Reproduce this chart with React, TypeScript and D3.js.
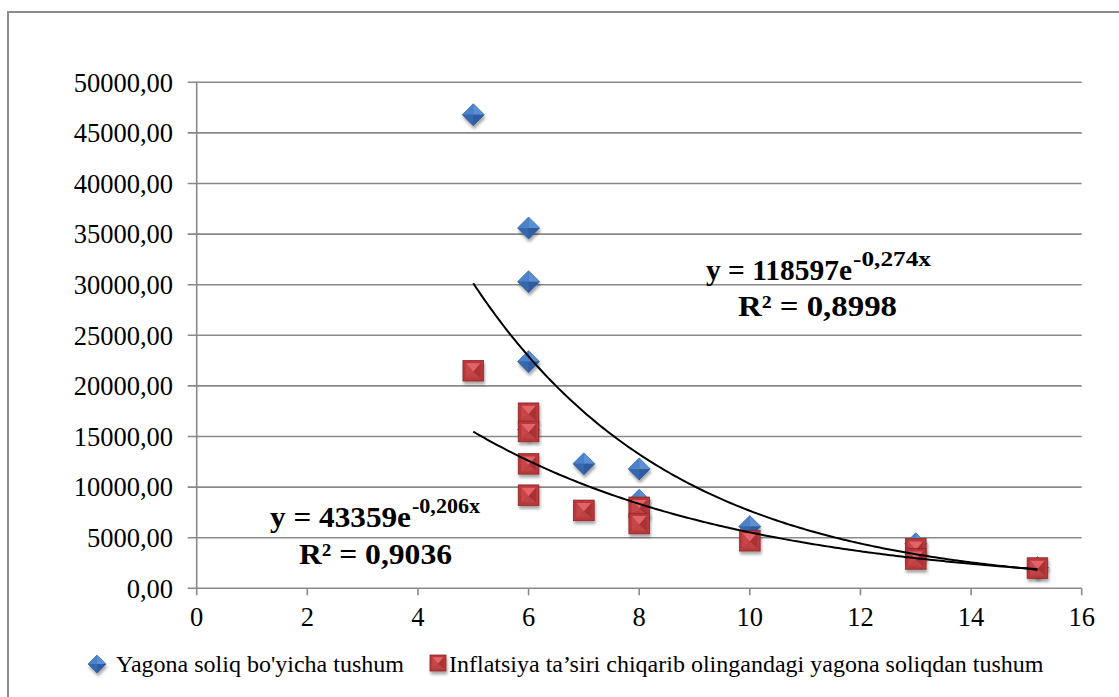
import * as d3 from "d3";

const WIDTH = 1119;
const HEIGHT = 697;
const FONT = "Liberation Serif, Times New Roman, serif";

// Yagona soliq bo'yicha tushum
const blueX = [5, 6, 6, 6, 6, 7, 8, 8, 10, 13, 15.2];
const blueY = [46800, 35600, 30300, 22400, 15700, 12300, 11800, 8700, 6100, 4400, 2050];

// Inflatsiya ta'siri chiqarib olingandagi yagona soliqdan tushum
const redX = [5, 6, 6, 6, 6, 7, 8, 8, 10, 13, 13, 15.2];
const redY = [21500, 17300, 15500, 12300, 9200, 7700, 8000, 6400, 4700, 3900, 2900, 2000];

const xTicks = [0, 2, 4, 6, 8, 10, 12, 14, 16];
const yTicks = [0, 5000, 10000, 15000, 20000, 25000, 30000, 35000, 40000, 45000, 50000];

const seriesNames = [
  "Yagona soliq bo'yicha tushum",
  "Inflatsiya ta\u2019siri chiqarib olingandagi yagona soliqdan tushum",
];

// exponential trend fits (as printed on the chart)
const blueFit = { a: 118597, b: -0.274, r2: "0,8998", aLabel: "118597", bLabel: "-0,274x" };
const redFit = { a: 43359, b: -0.206, r2: "0,9036", aLabel: "43359", bLabel: "-0,206x" };

const plot = { left: 196.7, right: 1081.7, top: 82.3, bottom: 588.3 };
const GRID = "#898989";
const serif = { fontFamily: FONT };

function Diamond({ cx, cy, r = 11 }: { cx: number; cy: number; r?: number }) {
  return (
    <g transform={`translate(${cx},${cy})`} filter="url(#shadow)">
      <path d={`M0,${-r}L${r},0L0,${r}L${-r},0Z`} fill="#3a6fb6" stroke="#2c5a99" strokeWidth={0.6} />
      <path d={`M0,${-r}L${r},0L0,0Z`} fill="#5b8fd3" />
      <path d={`M0,${-r}L${-r},0L0,0Z`} fill="#4c82c9" />
      <path d={`M0,${r}L${-r},0L0,0Z`} fill="#3467ad" />
      <path d={`M0,${r}L${r},0L0,0Z`} fill="#2d5c9e" />
    </g>
  );
}

function Square({ cx, cy, s = 10.3 }: { cx: number; cy: number; s?: number }) {
  const i = s * 0.72;
  return (
    <g transform={`translate(${cx},${cy})`} filter="url(#shadow)">
      <rect x={-s} y={-s} width={2 * s} height={2 * s} fill="#b8383a" stroke="#8e2628" strokeWidth={0.8} />
      <path d={`M${-i},${-i}L${i},${-i}L0,${i * 0.15}Z`} fill="#e46466" />
      <path d={`M${-i},${-i}L${-i},${i}L0,${i * 0.15}Z`} fill="#c5474a" />
      <path d={`M${i},${-i}L${i},${i}L0,${i * 0.15}Z`} fill="#a83235" />
      <path d={`M${-i},${i}L${i},${i}L0,${i * 0.15}Z`} fill="#bf4244" />
    </g>
  );
}

function Equation({
  fit,
  x0,
  mainW,
  supW,
  base,
  rX,
  rW,
  rBase,
}: {
  fit: typeof blueFit;
  x0: number;
  mainW: number;
  supW: number;
  base: number;
  rX: number;
  rW: number;
  rBase: number;
}) {
  return (
    <g fontWeight="bold" fill="#000" style={serif}>
      <text x={x0} y={base} fontSize={30} textLength={mainW} lengthAdjust="spacingAndGlyphs">
        {`y = ${fit.aLabel}e`}
      </text>
      <text x={x0 + mainW + 1} y={base - 14} fontSize={20} textLength={supW} lengthAdjust="spacingAndGlyphs">
        {fit.bLabel}
      </text>
      <text x={rX} y={rBase} fontSize={30} textLength={rW} lengthAdjust="spacingAndGlyphs">
        {`R² = ${fit.r2}`}
      </text>
    </g>
  );
}

export default function App() {
  const x = d3.scaleLinear().domain([0, 16]).range([plot.left, plot.right]);
  const y = d3.scaleLinear().domain([0, 50000]).range([plot.bottom, plot.top]);
  const fmt = (v: number) => d3.format(".2f")(v).replace(".", ",");

  const trend = (fit: { a: number; b: number }) => {
    const xs = d3.range(5, 15.2001, 0.05);
    return (
      d3
        .line<number>()
        .x((d) => x(d))
        .y((d) => y(fit.a * Math.exp(fit.b * d)))(xs) ?? ""
    );
  };

  return (
    <svg
      width={WIDTH}
      height={HEIGHT}
      style={{ position: "absolute", left: 0, top: 0, background: "#fff" }}
    >
      <defs>
        <filter id="shadow" x="-50%" y="-50%" width="200%" height="200%">
          <feDropShadow dx="1" dy="3" stdDeviation="1.8" floodColor="#000" floodOpacity="0.35" />
        </filter>
      </defs>
      <rect x={8} y={12} width={WIDTH} height={HEIGHT} fill="#fff" stroke="#8c8c8c" strokeWidth={2} />

      {/* gridlines */}
      {yTicks.map((t) => (
        <g key={`y${t}`}>
          <line x1={plot.left - 9} x2={plot.right} y1={y(t)} y2={y(t)} stroke={GRID} strokeWidth={1.6} />
          <text x={173} y={y(t)} dy="0.35em" textAnchor="end" fontSize={26.5} fill="#000" style={serif}>
            {fmt(t)}
          </text>
        </g>
      ))}
      <line x1={plot.left} x2={plot.left} y1={plot.top} y2={plot.bottom} stroke={GRID} strokeWidth={1.6} />
      {xTicks.map((t) => (
        <g key={`x${t}`}>
          <line x1={x(t)} x2={x(t)} y1={plot.bottom} y2={plot.bottom + 7} stroke={GRID} strokeWidth={1.6} />
          <text x={x(t)} y={626} textAnchor="middle" fontSize={26.5} fill="#000" style={serif}>
            {t}
          </text>
        </g>
      ))}

      {/* points */}
      {blueX.map((v, i) => (
        <Diamond key={`b${i}`} cx={x(v)} cy={y(blueY[i])} />
      ))}
      {redX.map((v, i) => (
        <Square key={`r${i}`} cx={x(v)} cy={y(redY[i])} />
      ))}

      {/* trend lines */}
      <path d={trend(blueFit)} fill="none" stroke="#000" strokeWidth={2} />
      <path d={trend(redFit)} fill="none" stroke="#000" strokeWidth={2} />

      {/* equations */}
      <Equation fit={blueFit} x0={706} mainW={146} supW={78} base={280} rX={738} rW={159} rBase={316} />
      <Equation fit={redFit} x0={270} mainW={141} supW={68} base={527} rX={299} rW={153} rBase={564} />

      {/* legend */}
      <Diamond cx={97} cy={664} r={9} />
      <text x={116} y={672} fontSize={24} fill="#000" style={serif}>{seriesNames[0]}</text>
      <Square cx={438} cy={663} s={8} />
      <text x={449} y={672} fontSize={24} fill="#000" style={serif}>{seriesNames[1]}</text>
    </svg>
  );
}
